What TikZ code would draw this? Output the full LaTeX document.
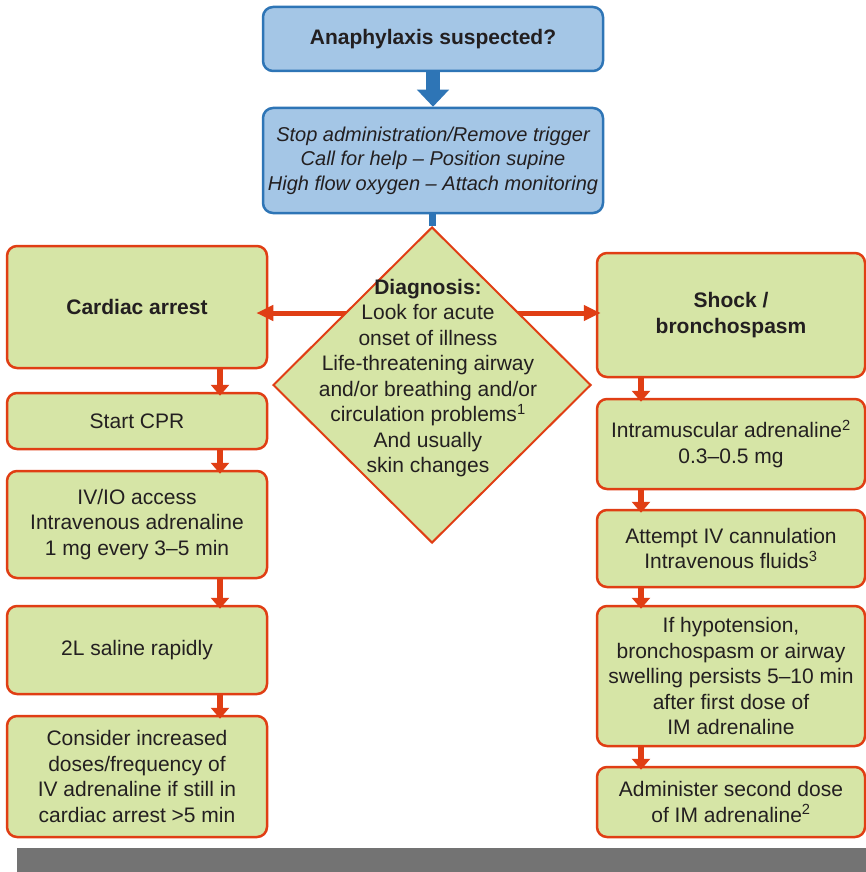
\documentclass[tikz,border=0pt]{standalone}
\usepackage{fontspec}
\setmainfont{Liberation Sans}
\usetikzlibrary{arrows.meta,shapes.geometric}
\definecolor{gfill}{RGB}{214,229,166}
\definecolor{rline}{RGB}{224,62,20}
\definecolor{bfill}{RGB}{164,198,230}
\definecolor{bline}{RGB}{46,117,182}
\definecolor{barc}{RGB}{115,115,115}
\definecolor{txt}{RGB}{35,31,32}
\newcommand{\myfs}{\fontsize{21}{25.5}\selectfont}
\newcommand{\myfsi}{\fontsize{20}{24.5}\selectfont}
\begin{document}
\begin{tikzpicture}[x=1pt,y=-1pt,
  gbox/.style={draw=rline, fill=gfill, line width=2.5pt, rounded corners=10pt, align=center, inner sep=0pt, font=\myfs, text=txt},
  lbox/.style={gbox, minimum width=260pt},
  rbox/.style={gbox, minimum width=268pt},
  bbox/.style={draw=bline, fill=bfill, line width=2.5pt, rounded corners=10pt, align=center, inner sep=0pt, font=\myfs, text=txt, minimum width=340pt},
  rarrow/.style={draw=rline, line width=5.5pt, -{Triangle[length=11pt,width=18pt]}, shorten >=-4pt},
  harrow/.style={draw=rline, line width=5pt, -{Triangle[length=17pt,width=15pt]}},
  barrow/.style={draw=bline, line width=14pt, -{Triangle[length=17pt,width=31pt]}},
]
\useasboundingbox (0,0) rectangle (866,872);
\fill[white] (0,0) rectangle (866,872);

% top blue boxes
\node[bbox, minimum height=64pt, font=\myfs\bfseries] (top) at (433,39) {Anaphylaxis suspected?};
\node[bbox, minimum height=105pt, font=\myfsi\itshape] (first) at (433,160.5)
  {Stop administration/Remove trigger\\Call for help -- Position supine\\High flow oxygen -- Attach monitoring};

% left column
\node[lbox, minimum height=122pt, font=\myfs\bfseries] (cardiac) at (137,307) {Cardiac arrest};
\node[lbox, minimum height=56pt] (cpr) at (137,421) {Start CPR};
\node[lbox, minimum height=107pt] (iv) at (137,524.5) {IV/IO access\\Intravenous adrenaline\\1 mg every 3--5 min};
\node[lbox, minimum height=88pt] (saline) at (137,650) {2L saline rapidly};
\node[lbox, minimum height=121pt] (consider) at (137,776.5) {Consider increased\\doses/frequency of\\IV adrenaline if still in\\cardiac arrest >5 min};

% right column
\node[rbox, minimum height=124pt, font=\myfs\bfseries] (shock) at (731,315) {Shock /\\bronchospasm};
\node[rbox, minimum height=90pt] (im) at (731,444) {Intramuscular adrenaline\textsuperscript{2}\\0.3--0.5 mg};
\node[rbox, minimum height=77pt] (att) at (731,548.5) {Attempt IV cannulation\\Intravenous fluids\textsuperscript{3}};
\node[rbox, minimum height=140pt] (hypo) at (731,676) {If hypotension,\\bronchospasm or airway\\swelling persists 5--10 min\\after first dose of\\IM adrenaline};
\node[rbox, minimum height=70pt] (admin) at (731,802) {Administer second dose\\of IM adrenaline\textsuperscript{2}};

% arrows
\draw[barrow] (top.south) -- (first.north);

\coordinate (xl) at (220,0);
\coordinate (xr) at (641,0);
\draw[rarrow] (cardiac.south -| xl) -- (cpr.north -| xl);
\draw[rarrow] (cpr.south -| xl) -- (iv.north -| xl);
\draw[rarrow] (iv.south -| xl) -- (saline.north -| xl);
\draw[rarrow] (saline.south -| xl) -- (consider.north -| xl);
\draw[rarrow] (shock.south -| xr) -- (im.north -| xr);
\draw[rarrow] (im.south -| xr) -- (att.north -| xr);
\draw[rarrow] (att.south -| xr) -- (hypo.north -| xr);
\draw[rarrow] (hypo.south -| xr) -- (admin.north -| xr);

\coordinate (hl) at (432,313);
\draw[harrow, shorten >=-12pt] (hl) -- (cardiac.east |- hl);
\draw[harrow, shorten >=-5pt] (hl) -- (shock.west |- hl);

% diamond
\node[diamond, draw=rline, fill=gfill, line width=2pt, minimum width=318pt, minimum height=316pt, inner sep=0pt] (diag) at (432,385) {};
\draw[draw=bline, line width=7pt] (diag.north |- first.south) -- (diag.north);
\node[font=\myfs, text=txt, align=center, inner sep=0pt] (diagtext) at (428,378)
  {\textbf{Diagnosis:}\\Look for acute\\onset of illness\\Life-threatening airway\\and/or breathing and/or\\circulation problems\textsuperscript{1}\\And usually\\skin changes};

% bottom bar
\fill[barc] (17,848) rectangle (866,872);
\end{tikzpicture}
\end{document}
